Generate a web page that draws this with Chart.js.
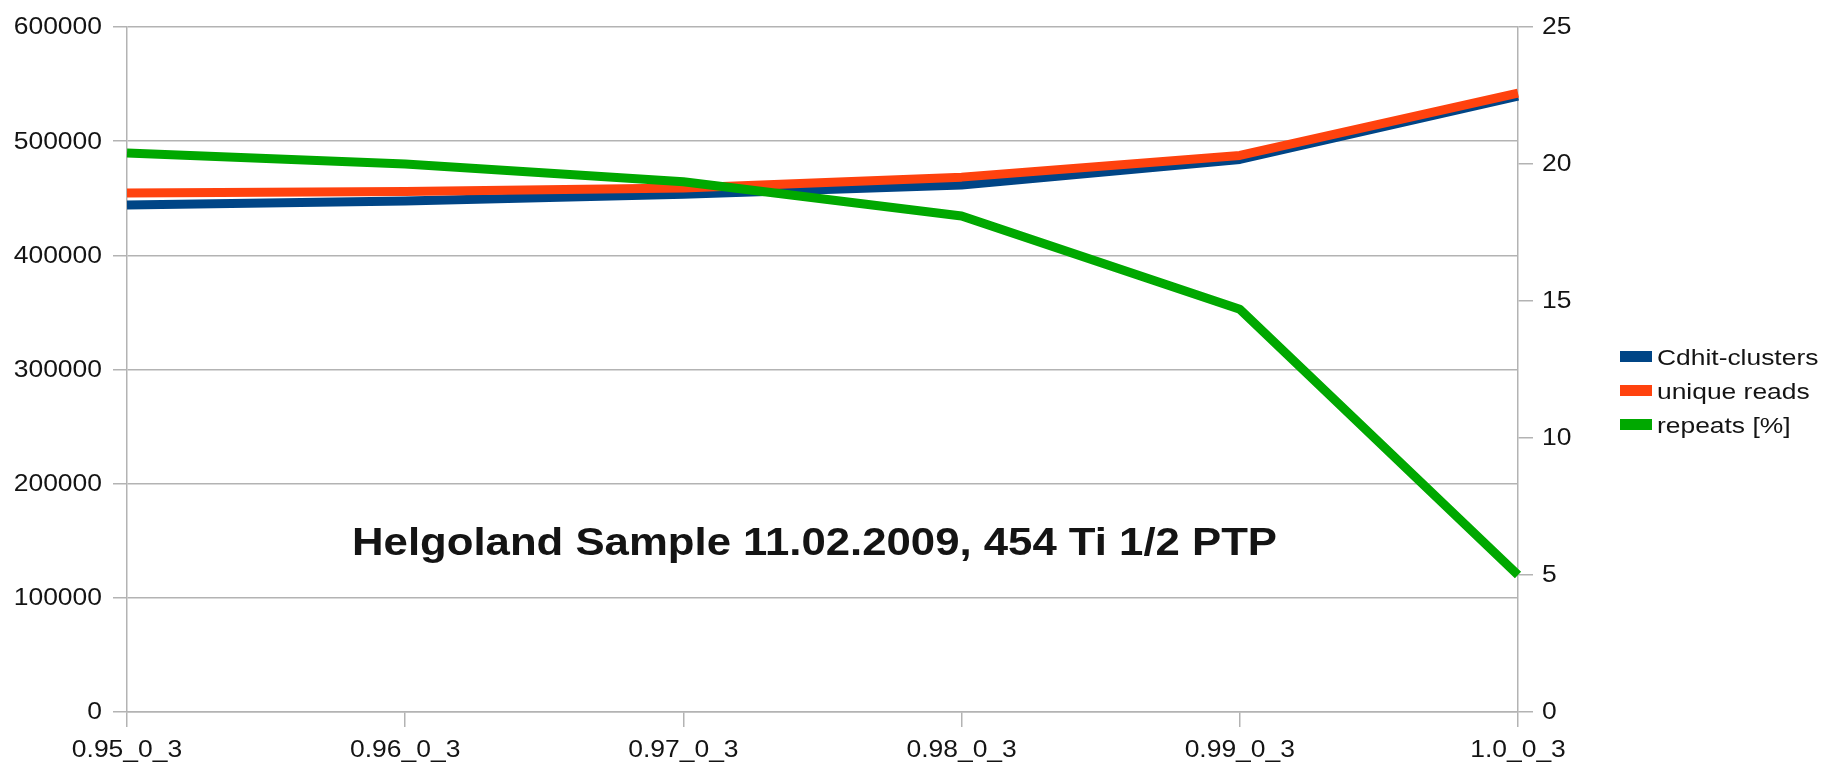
<!DOCTYPE html>
<html>
<head>
<meta charset="utf-8">
<script src="https://cdn.jsdelivr.net/npm/chart.js@4/dist/chart.umd.min.js"></script>
<style>
  html, body { margin: 0; padding: 0; background: #ffffff; }
  canvas { display: block; }
</style>
</head>
<body>
<canvas id="chart" width="1825" height="763"></canvas>
<script>
// Clustering thresholds (x axis)
const categories = ['0.95_0_3', '0.96_0_3', '0.97_0_3', '0.98_0_3', '0.99_0_3', '1.0_0_3'];
// Counts, left axis
const cdhitClusters = [444000, 447500, 453500, 461500, 484000, 539500];
const uniqueReads   = [454500, 456000, 459000, 468500, 487500, 542000];
// Percentage, right axis
const repeatsPct    = [20.4, 20.0, 19.35, 18.1, 14.7, 5.0];

const seriesNames  = ['Cdhit-clusters', 'unique reads', 'repeats [%]'];
const seriesColors = ['#004586', '#ff420e', '#00a800'];
const chartTitle   = 'Helgoland Sample 11.02.2009, 454 Ti 1/2 PTP';

const leftAxis  = { min: 0, max: 600000, step: 100000 };
const rightAxis = { min: 0, max: 25, step: 5 };

const FONT = '"Liberation Sans", Arial, sans-serif';
const TEXT_COLOR = '#141414';
const GRID_COLOR = '#b3b3b3';

// Draws text stretched horizontally by sx around its anchor
function wideText(ctx, text, x, y, align, sx) {
  ctx.save();
  ctx.translate(x, y);
  ctx.scale(sx, 1);
  ctx.textAlign = align;
  ctx.fillText(text, 0, 0);
  ctx.restore();
}

// Axis labels, in-plot caption and legend
const annotations = {
  id: 'annotations',
  afterDraw(chart) {
    const ctx = chart.ctx;
    const { x, y, y1 } = chart.scales;
    const area = chart.chartArea;
    ctx.save();
    ctx.fillStyle = TEXT_COLOR;

    // tick labels
    ctx.font = '23px ' + FONT;
    ctx.textBaseline = 'middle';
    y.ticks.forEach((t, i) => wideText(ctx, String(t.value), area.left - 25, y.getPixelForTick(i) + 1, 'right', 1.15));
    y1.ticks.forEach((t, i) => wideText(ctx, String(t.value), area.right + 24, y1.getPixelForTick(i) + 1, 'left', 1.15));
    ctx.textBaseline = 'alphabetic';
    x.ticks.forEach((t, i) => wideText(ctx, chart.data.labels[t.value], x.getPixelForTick(i), area.bottom + 45, 'center', 1.15));

    // caption inside the plot
    ctx.font = 'bold 39px ' + FONT;
    const w = ctx.measureText(chartTitle).width;
    wideText(ctx, chartTitle, area.left + 225, area.top + 528, 'left', 925 / w);

    // legend
    ctx.font = '22px ' + FONT;
    const legendX = area.right + 102;
    const rowY0 = area.top + 330;
    chart.data.datasets.forEach((ds, i) => {
      const cy = rowY0 + i * 34;
      ctx.fillStyle = ds.borderColor;
      ctx.fillRect(legendX, cy - 6, 32, 11);
      ctx.fillStyle = TEXT_COLOR;
      wideText(ctx, ds.label, legendX + 37, cy + 8, 'left', 1.2);
    });
    ctx.restore();
  }
};

const hidden = 'rgba(0,0,0,0)';

new Chart(document.getElementById('chart'), {
  type: 'line',
  data: {
    labels: categories,
    datasets: [
      { label: seriesNames[0], data: cdhitClusters, yAxisID: 'y',  borderColor: seriesColors[0], backgroundColor: seriesColors[0], order: 2 },
      { label: seriesNames[1], data: uniqueReads,   yAxisID: 'y',  borderColor: seriesColors[1], backgroundColor: seriesColors[1], order: 1 },
      { label: seriesNames[2], data: repeatsPct,    yAxisID: 'y1', borderColor: seriesColors[2], backgroundColor: seriesColors[2], order: 0 }
    ].map(d => Object.assign(d, {
      borderWidth: 9,
      tension: 0,
      pointRadius: 0,
      pointHoverRadius: 0,
      borderJoinStyle: 'round',
      borderCapStyle: 'butt',
      fill: false
    }))
  },
  options: {
    responsive: false,
    animation: false,
    events: [],
    layout: { padding: { top: 27, right: 247, bottom: 0, left: 0 } },
    plugins: {
      legend: { display: false },
      title: { display: false },
      tooltip: { enabled: false }
    },
    scales: {
      x: {
        offset: false,
        grid: { drawOnChartArea: false, drawTicks: true, tickLength: 15, color: GRID_COLOR, lineWidth: 1.5 },
        border: { display: true, color: GRID_COLOR, width: 1.5 },
        ticks: { color: hidden, font: { size: 23, family: FONT }, autoSkip: false, maxRotation: 0 },
        afterFit(s) { s.height = 51; }
      },
      y: {
        position: 'left',
        min: leftAxis.min,
        max: leftAxis.max,
        ticks: { stepSize: leftAxis.step, color: hidden, font: { size: 23, family: FONT } },
        grid: { drawOnChartArea: true, drawTicks: true, tickLength: 14, color: GRID_COLOR, lineWidth: 1.5 },
        border: { display: true, color: GRID_COLOR, width: 1.5 },
        afterFit(s) { s.width = 127; }
      },
      y1: {
        position: 'right',
        min: rightAxis.min,
        max: rightAxis.max,
        ticks: { stepSize: rightAxis.step, color: hidden, font: { size: 23, family: FONT } },
        grid: { drawOnChartArea: false, drawTicks: true, tickLength: 15, color: GRID_COLOR, lineWidth: 1.5 },
        border: { display: true, color: GRID_COLOR, width: 1.5 },
        afterFit(s) { s.width = 60; }
      }
    }
  },
  plugins: [annotations]
});
</script>
</body>
</html>
